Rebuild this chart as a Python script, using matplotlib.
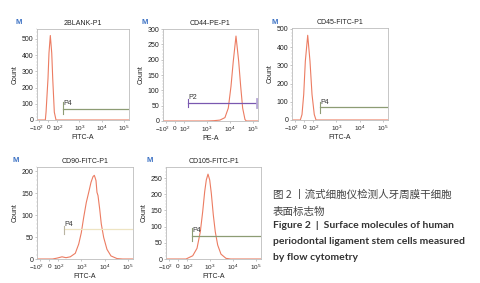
import matplotlib
matplotlib.use('Agg')
import matplotlib.pyplot as plt
from matplotlib.ticker import FixedLocator, NullLocator, MultipleLocator
from matplotlib.transforms import ScaledTranslation

plt.rcParams['font.family'] = ['Liberation Sans', 'DejaVu Sans']
plt.rcParams['mathtext.fontset'] = 'custom'
plt.rcParams['mathtext.rm'] = 'Liberation Sans'
plt.rcParams['mathtext.it'] = 'Liberation Sans'

# ---------------- data ----------------
xtick_vals = [-100, 0, 100, 1000, 10000, 100000]
xtick_labels = [r'$-10^2$', r'$0$', r'$10^2$', r'$10^3$', r'$10^4$', r'$10^5$']

titles = ['2BLANK-P1', 'CD44-PE-P1', 'CD45-FITC-P1', 'CD90-FITC-P1', 'CD105-FITC-P1']
xlabels = ['FITC-A', 'PE-A', 'FITC-A', 'FITC-A', 'FITC-A']

blank_x = [-129, -60, -34, -26, -4, 7, 22, 38, 49, 67, 86, 120, 160000]
blank_y = [0, 0, 0, 48, 256, 412, 520, 412, 256, 48, 0, 0, 0]

cd44_x = [-129, 1000, 2000, 3700, 6100, 8550, 11200, 14100, 18500, 24200, 29600, 36100, 45500, 52000, 160000]
cd44_y = [0, 0, 1, 3, 11, 42, 113, 195, 277, 195, 113, 42, 5, 0, 0]

cd45_x = [-129, -60, -38, -20, -1.5, 16, 41.5, 66, 88, 112, 133, 200, 160000]
cd45_y = [0, 0, 0, 30, 140, 323, 465, 323, 140, 30, 0, 0, 0]

cd90_x = [-129, 40, 88, 147, 218, 334, 548, 769, 995, 1262, 1633, 2073, 2606, 3177,
          3614, 3900, 4276, 4721, 5212, 6166, 7228, 9183, 12700, 18900, 34300, 60000, 160000]
cd90_y = [0, 0, 2, 5, 3, 5, 13, 34, 60, 95, 129, 152, 175, 188,
          191, 186, 179, 152, 145, 114, 80, 49, 22, 7, 1, 0, 0]

cd105_x = [-129, 90, 179, 275, 383, 486, 594, 698, 828, 982, 1153, 1409, 1718, 2188, 3041, 5023, 8000, 160000]
cd105_y = [0, 0, 10, 33, 84, 146, 208, 244, 262, 244, 203, 136, 84, 43, 15, 2, 0, 0]

curves_x = [blank_x, cd44_x, cd45_x, cd90_x, cd105_x]
curves_y = [blank_y, cd44_y, cd45_y, cd90_y, cd105_y]

gate_names = ['P4', 'P2', 'P4', 'P4', 'P4']
gate_start = [176, 150, 198, 174, 166]
gate_end = [168000, 147000, 168000, 168000, 168000]
gate_level = [67, 59, 70, 68, 72]
gate_low = [36, 46, 40, 57, 56]
gate_high = [108, 71, 101, 76, 95]

y_top = [560, 300, 505, 210, 284]
y_step = [100, 50, 100, 50, 50]
y_tick_max = [500, 300, 500, 200, 250]

caption_cn = ['图 2 丨流式细胞仪检测人牙周膜干细胞', '表面标志物']
caption_en = ['Figure 2  |  Surface molecules of human',
              'periodontal ligament stem cells measured',
              'by flow cytometry']

# ---------------- layout / style ----------------
W, H = 481, 283
fig = plt.figure(figsize=(W / 100, H / 100), dpi=100)

boxes = [(37, 29, 92, 91), (163, 29, 95, 92), (292, 28, 96, 92),
         (37, 167, 96, 92), (166, 167, 95, 92)]
m_pos = [(19, 23), (145, 23), (275, 22), (16, 160), (150, 161)]
gate_colors = ['#8d9c74', '#7a58b0', '#8d9c74', '#eee4c2', '#8d9c74']
gate_vcolors = ['#8d9c74', '#7a58b0', '#8d9c74', '#b9b4a2', '#8d9c74']
curve_color = '#ec7c62'
label_shift_pt = [-2.2, 0.3, 0.6, 0, 0, 0]

for i in range(5):
    l, t, w, h = boxes[i]
    ax = fig.add_axes([l / W, 1 - (t + h) / H, w / W, h / H])
    ax.set_xscale('symlog', linthresh=100, linscale=0.36)
    ax.set_xlim(-129, 168000)
    ax.set_ylim(0, y_top[i])
    ax.plot(curves_x[i], curves_y[i], color=curve_color, lw=0.8, solid_joinstyle='round')

    gc = gate_colors[i]
    ax.plot([gate_start[i], gate_end[i]], [gate_level[i], gate_level[i]], color=gc, lw=0.9)
    ax.plot([gate_start[i], gate_start[i]], [gate_low[i], gate_high[i]], color=gate_vcolors[i], lw=0.8)
    if i == 1:
        ax.plot([gate_end[i], gate_end[i]], [gate_low[i], gate_high[i]], color='#b7a8d6', lw=2.0)
    ax.annotate(gate_names[i], (gate_start[i], gate_level[i]), xytext=(0.3, 1.2),
                textcoords='offset points', ha='left', va='bottom', fontsize=5, color='#333333')

    ax.xaxis.set_major_locator(FixedLocator(xtick_vals))
    ax.set_xticklabels(xtick_labels)
    ax.xaxis.set_minor_locator(NullLocator())
    ax.yaxis.set_major_locator(FixedLocator(list(range(0, y_tick_max[i] + 1, y_step[i]))))
    ax.yaxis.set_minor_locator(MultipleLocator(y_step[i] / 5))
    ax.tick_params(axis='x', which='major', labelsize=4.6)
    ax.tick_params(axis='y', which='major', labelsize=5)
    ax.tick_params(axis='both', which='major', length=1.5, width=0.4,
                   color='#999999', pad=1, labelcolor='#222222')
    ax.tick_params(axis='y', which='minor', length=1.0, width=0.3, color='#bbbbbb')
    for lab, dx in zip(ax.get_xticklabels(), label_shift_pt):
        lab.set_transform(lab.get_transform() + ScaledTranslation(dx / 72, 0, fig.dpi_scale_trans))
    for s in ax.spines.values():
        s.set_color('#bdbdbd')
        s.set_linewidth(0.6)
    ax.set_title(titles[i], fontsize=5, pad=3, color='#222222')
    ax.set_xlabel(xlabels[i], fontsize=5, labelpad=1, color='#222222')
    ax.set_ylabel('Count', fontsize=5, labelpad=2, color='#222222')

    mx, my = m_pos[i]
    fig.text(mx / W, 1 - my / H, 'M', fontsize=5.5, fontweight='bold', color='#3d72c4',
             ha='center', va='center')

cx = 273 / W
cn_y = [195, 212]
en_y = [226, 242, 257]
for s, y in zip(caption_cn, cn_y):
    fig.text(cx, 1 - y / H, s, fontsize=7.6, color='#444444', ha='left', va='center',
             family=['Noto Sans CJK SC', 'DejaVu Sans'])
for s, y in zip(caption_en, en_y):
    fig.text(cx, 1 - y / H, s, fontsize=7.5, color='#333333', ha='left', va='center',
             fontweight='bold', family=['Lato', 'DejaVu Sans'])

fig.savefig('out.png', dpi=100, facecolor='white')
